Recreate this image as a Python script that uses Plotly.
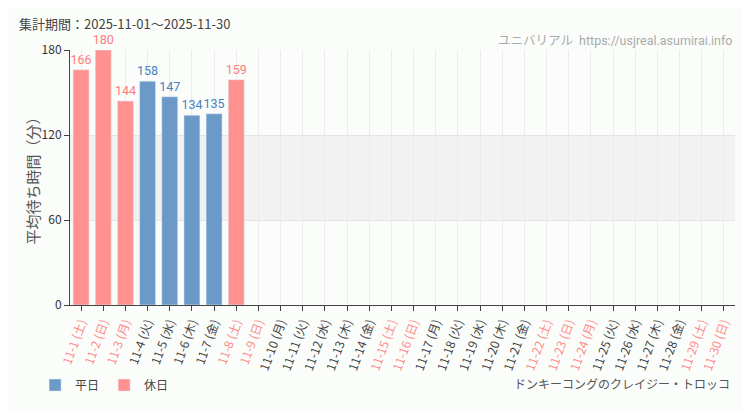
import plotly.graph_objects as go

days = [f"11-{d}" for d in range(1, 31)]
weekdays = ["土", "日", "月", "火", "水", "木", "金"]
dow = [weekdays[(d - 1) % 7] for d in range(1, 31)]
holiday_flags = [d in (1, 2, 3, 8, 9, 15, 16, 22, 23, 24, 29, 30) for d in range(1, 31)]
wait_values = [166, 180, 144, 158, 147, 134, 135, 159] + [None] * 22

cats = [f"{d} ({w})" for d, w in zip(days, dow)]
weekday_vals = [v if (v is not None and not h) else None for v, h in zip(wait_values, holiday_flags)]
holiday_vals = [v if (v is not None and h) else None for v, h in zip(wait_values, holiday_flags)]

BLUE = "#6b9ac8"
PINK = "#ff9191"
BLUE_T = "#4a7fbf"
PINK_T = "#ff7b7b"
COND = "Roboto, Noto Sans CJK JP"

ticktext = [f"<span style='color:{'#ff8a8a' if h else '#444'}'>{c}</span>" for c, h in zip(cats, holiday_flags)]

fig = go.Figure()
fig.add_bar(x=cats, y=weekday_vals, name="平日", marker_color=BLUE, width=0.72,
            text=[str(v) if v else "" for v in weekday_vals], textposition="outside",
            constraintext="none",
            textfont=dict(color=BLUE_T, size=12.5, family=COND), cliponaxis=False)
fig.add_bar(x=cats, y=holiday_vals, name="休日", marker_color=PINK, width=0.72,
            text=[str(v) if v else "" for v in holiday_vals], textposition="outside",
            constraintext="none",
            textfont=dict(color=PINK_T, size=12.5, family=COND), cliponaxis=False)

fig.add_shape(type="rect", xref="paper", yref="y", x0=0, x1=1, y0=60, y1=120,
              fillcolor="#f2f2f2", line_width=0, layer="below")

fig.update_layout(
    width=750, height=410,
    margin=dict(l=62, r=23, t=42, b=113, autoexpand=False),
    paper_bgcolor="#fbfdfb", plot_bgcolor="#fbfdfb",
    barmode="overlay",
    font=dict(family="Noto Sans CJK JP", color="#444", size=12),
    showlegend=True,
    legend=dict(orientation="h", x=-0.0525, y=-0.314, xanchor="left", yanchor="middle",
                font=dict(size=12, color="#444"), itemwidth=30, tracegroupgap=0, bgcolor="rgba(0,0,0,0)"),
    xaxis=dict(type="category", tickvals=cats, ticktext=ticktext, tickangle=-70, automargin=False,
               showgrid=True, gridcolor="#ececec", showline=True, linecolor="#444", linewidth=1,
               ticks="outside", ticklen=5, tickcolor="#444", tickfont=dict(size=12),
               range=[-0.5, 29.5]),
    yaxis=dict(range=[0, 180], tickvals=[0, 60, 120, 180], showgrid=True, gridcolor="#e4e4e4",
               automargin=False,
               showline=True, linecolor="#444", linewidth=1, ticks="outside", ticklen=5, tickcolor="#444",
               tickfont=dict(size=12, color="#333"), zeroline=False),
    annotations=[
        dict(text="平均待ち時間（分）", xref="paper", yref="paper", x=-0.0571, y=0.5, textangle=-90,
             xanchor="center", yanchor="middle", showarrow=False, font=dict(size=15, color="#555")),
        dict(text="集計期間：2025-11-01～2025-11-30", xref="paper", yref="paper", x=-0.08, y=1.105,
             xanchor="left", yanchor="middle", showarrow=False, font=dict(size=13, color="#444")),
        dict(text="ユニバリアル  https://usjreal.asumirai.info", xref="paper", yref="paper", x=1.0, y=1.039,
             xanchor="right", yanchor="middle", showarrow=False,
             font=dict(size=12.5, color="#aaa", family=COND)),
        dict(text="ドンキーコングのクレイジー・トロッコ", xref="paper", yref="paper", x=0.995, y=-0.314,
             xanchor="right", yanchor="middle", showarrow=False,
             font=dict(size=12, color="#555", family=COND)),
    ],
)

fig.write_html("out.html")
